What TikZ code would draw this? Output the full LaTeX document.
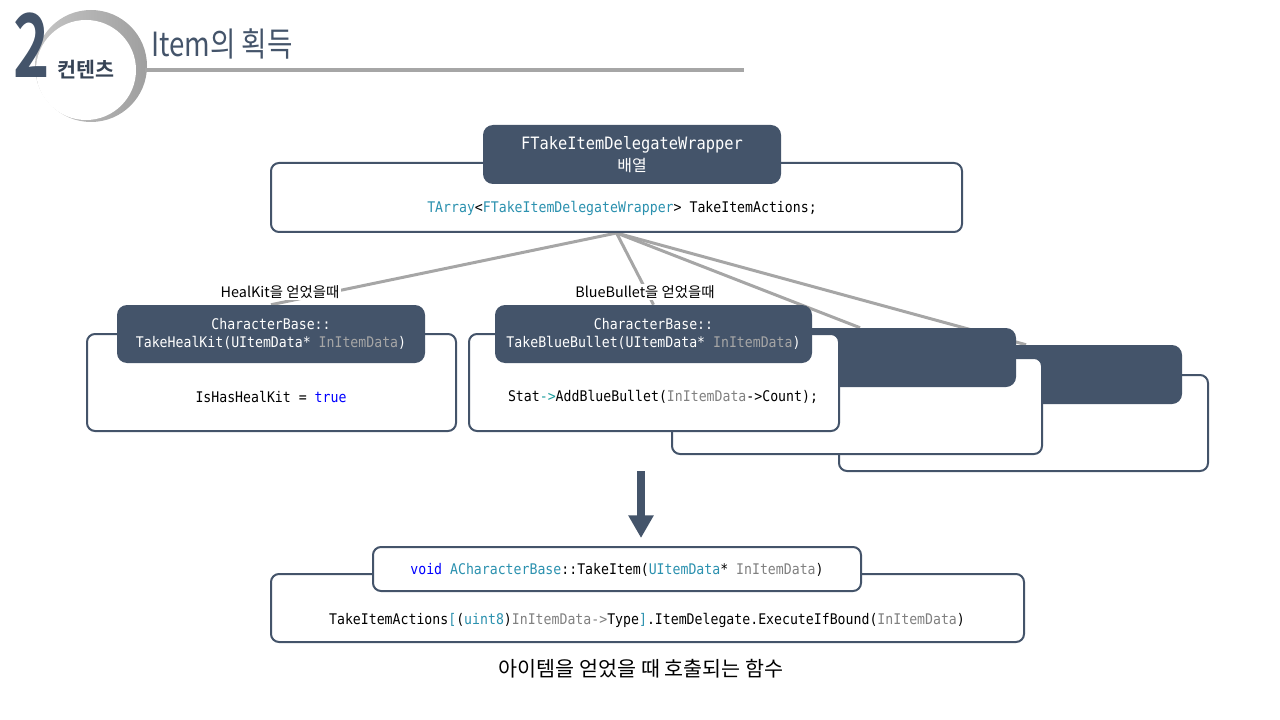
\documentclass[tikz,border=0pt]{standalone}
\usepackage{fontspec}
\usepackage{graphicx}
\setmainfont{Noto Sans CJK KR}[BoldFont={Noto Sans CJK KR Bold}]
\setmonofont{DejaVu Sans Mono}[FakeStretch=0.9]
\newfontfamily\kr{Noto Sans CJK KR}[BoldFont={Noto Sans CJK KR Bold}]
\usetikzlibrary{arrows.meta,backgrounds}
\definecolor{slate}{HTML}{44546A}
\definecolor{linkgray}{HTML}{A6A6A6}
\definecolor{typeteal}{HTML}{2B91AF}
\definecolor{opteal}{HTML}{1E9E9E}
\definecolor{kwblue}{HTML}{0000FF}
\definecolor{argray}{HTML}{808080}
\definecolor{arglight}{HTML}{A6A6A6}
\newcommand\tyname[1]{\textcolor{typeteal}{#1}}
\newcommand\kwname[1]{\textcolor{kwblue}{#1}}
\newcommand\argname[1]{\textcolor{argray}{#1}}
\def\drawlink{\draw[color=linkgray, line width=2.25pt]}
\def\headnode{\node[headbox]}
\def\bodynode{\node[bodybox]}

\begin{document}
\begin{tikzpicture}[x=0.75pt,y=-0.75pt,
  headbox/.style={fill=slate, rounded corners=7.5pt, text=white, align=center,
    font=\ttfamily\fontsize{11}{13.5}\selectfont, inner sep=0pt},
  bodybox/.style={draw=slate, line width=1.5pt, fill=white, rounded corners=6pt, inner sep=0pt},
  code/.style={font=\ttfamily\fontsize{11}{13}\selectfont, inner sep=0pt},
  saying/.style={fill=white, font=\kr\fontsize{10.8}{12}\selectfont, inner sep=1pt}]
\useasboundingbox (0,0) rectangle (1280,720);

% -------- page heading ---------
\node[circle, minimum size=84pt, inner sep=0pt, left color=gray!45, right color=gray!75] (ring) at (91,66) {};
\node[circle, minimum size=75pt, inner sep=0pt, fill=white, text=slate!80!black,
  font=\kr\bfseries\fontsize{15.5}{17}\selectfont] (badge) at (86,70) {컨텐츠};
\node[text=slate, inner sep=0pt, font=\bfseries\fontsize{66}{66}\selectfont] (num) at (32,45) {\scalebox{0.7}[1]{2}};
\node[anchor=west, text=slate, inner sep=0pt, font=\kr\fontsize{25}{27}\selectfont] (title) at (151,44) {\scalebox{0.83}[1]{Item의 획득}};
\coordinate (rulestart) at (145,70);
\coordinate (ruleend) at (744,70);
\draw[linkgray, line width=3pt] (rulestart) -- (ruleend);
% ------ end page heading ------

% -------- the array of wrappers ---------
\bodynode[minimum width=518.25pt, minimum height=51.75pt] (arr) at (616.5,197.5) {};
\headnode[minimum width=223.5pt, minimum height=44.25pt, font=\ttfamily\fontsize{12.8}{17}\selectfont] (arrhead) at (632,154.5) {FTakeItemDelegateWrapper\\{\kr\fontsize{12}{17}\selectfont 배열}};
\node[code] (arrcode) at (622,208) {\tyname{TArray}<\tyname{FTakeItemDelegateWrapper}> TakeItemActions;};

% -------- stacked handlers, back to front ---------
\bodynode[minimum width=276.75pt, minimum height=72pt] (fourth) at (1023.5,423) {};
\headnode[minimum width=234pt, minimum height=44.25pt] (fourthhead) at (1026,374.5) {};
\bodynode[minimum width=277.5pt, minimum height=72pt] (third) at (857,406) {};
\headnode[minimum width=234pt, minimum height=44.25pt] (thirdhead) at (860,357.5) {};

\bodynode[minimum width=277.5pt, minimum height=72.75pt] (blue) at (654,382.5) {};
\headnode[minimum width=237.75pt, minimum height=43.5pt] (bluehead) at (653.5,334) {CharacterBase::\\TakeBlueBullet(UItemData* \textcolor{arglight}{InItemData})};
\node[code] (bluecode) at (663,397) {Stat\textcolor{opteal}{->}AddBlueBullet(\argname{InItemData}->Count);};

\bodynode[minimum width=276.75pt, minimum height=72.75pt] (heal) at (271.5,382.5) {};
\headnode[minimum width=231pt, minimum height=43.5pt] (healhead) at (271,334) {CharacterBase::\\TakeHealKit(UItemData* \textcolor{arglight}{InItemData})};
\node[code] (healcode) at (271,397) {IsHasHealKit = \kwname{true}};

% links from the array to every handler sit under the boxes
\begin{pgfonlayer}{background}
\drawlink (arr.south) -- (healhead.north);
\drawlink (arr.south) -- (bluehead.north);
\drawlink (arr.south) -- (thirdhead.north);
\drawlink (arr.south) -- (fourthhead.north);
\end{pgfonlayer}
\node[saying] (healsay) at (280,292) {HealKit을 얻었을때};
\node[saying] (bluesay) at (645,292) {BlueBullet을 얻었을때};
% ------ end handlers ------

% -------- the call ---------
\coordinate (arrowtop) at (641,471);
\coordinate (arrowtip) at (641,538);
\draw[slate, line width=6pt, -{Triangle[width=18pt,length=17pt]}] (arrowtop) -- (arrowtip);

\bodynode[minimum width=564.75pt, minimum height=51pt] (take) at (647.5,608) {};
\bodynode[minimum width=366pt, minimum height=33pt] (takehead) at (617,569) {};
\node[code] (takesig) at (617,570) {\kwname{void} \tyname{ACharacterBase}::TakeItem(\tyname{UItemData}* \argname{InItemData})};
\node[code] (takecode) at (647,620) {TakeItemActions\tyname{[}(\tyname{uint8})\argname{InItemData->}Type\tyname{]}.ItemDelegate.ExecuteIfBound(\argname{InItemData})};
\node[font=\kr\fontsize{15.5}{17}\selectfont, inner sep=0pt] (caption) at (641,669) {아이템을 얻었을 때 호출되는 함수};
\end{tikzpicture}
\end{document}
